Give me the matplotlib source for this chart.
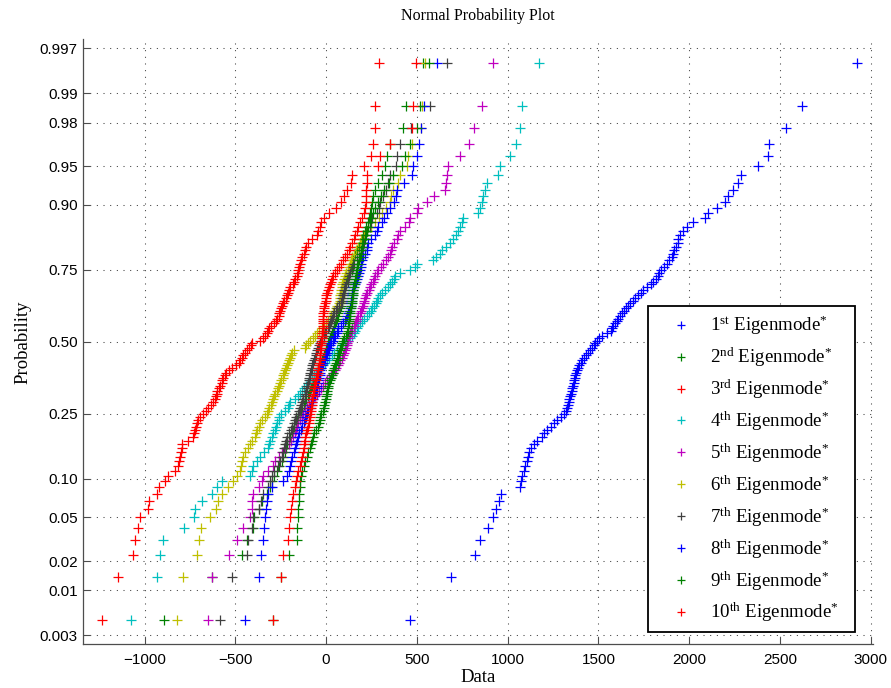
import matplotlib
matplotlib.use('Agg')
import matplotlib.pyplot as plt
import numpy as np
from statistics import NormalDist

# ---- data: sorted values of each eigenmode sample ----
mode1 = [463, 688, 822, 850, 894, 921, 937, 950, 962, 1068,
         1074, 1080, 1088, 1095, 1105, 1110, 1117, 1130, 1145, 1163,
         1187, 1200, 1215, 1236, 1254, 1272, 1295, 1310, 1322, 1328,
         1332, 1336, 1339, 1343, 1348, 1352, 1355, 1359, 1363, 1367,
         1370, 1373, 1377, 1381, 1388, 1395, 1402, 1410, 1420, 1430,
         1440, 1452, 1466, 1476, 1483, 1490, 1505, 1522, 1545, 1567,
         1576, 1581, 1590, 1600, 1610, 1619, 1628, 1640, 1651, 1662,
         1675, 1690, 1704, 1720, 1735, 1748, 1768, 1788, 1803, 1815,
         1826, 1836, 1847, 1861, 1876, 1890, 1903, 1911, 1918, 1926,
         1936, 1940, 1949, 1968, 1986, 2023, 2087, 2105, 2152, 2197,
         2215, 2243, 2271, 2285, 2381, 2436, 2441, 2533, 2623, 2923]
mode2 = [-892, -630, -464, -437, -404, -395, -370, -354, -327, -308,
         -299, -285, -272, -260, -245, -236, -228, -221, -214, -205,
         -198, -190, -183, -176, -168, -160, -153, -146, -140, -130,
         -122, -115, -108, -101, -94, -88, -82, -76, -70, -64,
         -58, -52, -47, -42, -37, -32, -27, -22, -17, -12,
         -7, -2, 3, 8, 13, 18, 22, 27, 31, 36,
         41, 45, 50, 55, 59, 64, 68, 72, 77, 82,
         86, 88, 91, 93, 96, 101, 105, 109, 112, 116,
         121, 127, 133, 138, 144, 150, 156, 162, 169, 179,
         189, 199, 206, 213, 221, 229, 236, 243, 249, 255,
         261, 270, 288, 307, 325, 338, 352, 426, 441, 536]
mode3 = [-1235, -1144, -1061, -1052, -1034, -1024, -979, -973, -932, -920,
         -887, -870, -832, -818, -812, -807, -801, -795, -793, -760,
         -732, -727, -721, -716, -712, -705, -694, -677, -664, -650,
         -636, -622, -614, -607, -602, -598, -592, -584, -574, -571,
         -567, -559, -551, -537, -518, -498, -482, -474, -464, -455,
         -444, -434, -424, -416, -407, -363, -347, -336, -327, -322,
         -317, -303, -289, -278, -270, -262, -257, -253, -248, -242,
         -237, -231, -223, -216, -209, -203, -196, -184, -176, -169,
         -162, -157, -153, -149, -143, -138, -132, -121, -114, -110,
         -97, -77, -51, -44, -33, -28, -11, 17, 55, 83,
         99, 114, 136, 141, 209, 248, 261, 270, 270, 294]
mode4 = [-1075, -932, -914, -896, -784, -728, -721, -685, -630, -600,
         -575, -420, -410, -402, -380, -363, -340, -320, -314, -308,
         -300, -292, -283, -276, -268, -262, -257, -250, -228, -212,
         -203, -198, -172, -153, -142, -130, -120, -110, -100, -90,
         -78, -66, -54, -42, -30, -18, -6, 6, 18, 30,
         45, 60, 75, 90, 105, 118, 130, 142, 152, 162,
         170, 178, 187, 198, 210, 224, 235, 245, 255, 265,
         273, 279, 285, 295, 307, 325, 343, 352, 362, 372,
         380, 408, 460, 490, 499, 591, 608, 625, 640, 660,
         680, 700, 715, 729, 738, 747, 755, 839, 848, 857,
         866, 876, 885, 946, 958, 1013, 1045, 1068, 1078, 1175]
mode5 = [-648, -630, -532, -492, -457, -419, -410, -406, -400, -370,
         -354, -345, -320, -295, -280, -262, -245, -225, -205, -192,
         -180, -173, -166, -160, -152, -143, -133, -125, -115, -103,
         -93, -84, -75, -62, -51, -40, -28, -16, -5, 4,
         15, 26, 37, 47, 56, 65, 71, 79, 87, 95,
         100, 105, 110, 114, 117, 120, 123, 128, 133, 138,
         145, 152, 158, 165, 172, 178, 186, 193, 199, 203,
         207, 211, 214, 220, 228, 236, 243, 250, 258, 265,
         272, 280, 288, 300, 315, 330, 342, 350, 358, 364,
         375, 389, 398, 408, 435, 459, 463, 503, 505, 555,
         597, 655, 661, 668, 670, 738, 789, 817, 857, 918]
mode6 = [-819, -786, -712, -698, -690, -639, -605, -593, -572, -538,
         -515, -492, -474, -466, -462, -455, -446, -430, -421, -410,
         -393, -386, -378, -372, -365, -352, -338, -328, -318, -312,
         -306, -300, -295, -289, -282, -272, -264, -258, -252, -246,
         -240, -235, -230, -226, -222, -217, -212, -206, -199, -192,
         -185, -178, -118, -108, -98, -88, -74, -62, -52, -38,
         -25, -12, 0, 10, 20, 28, 36, 44, 52, 60,
         70, 74, 76, 78, 80, 82, 86, 90, 95, 100,
         106, 112, 118, 125, 130, 138, 145, 155, 165, 175,
         185, 195, 210, 224, 250, 270, 290, 307, 330, 350,
         360, 371, 398, 408, 444, 453, 472, 521, 530, 545]
mode7 = [-582, -519, -437, -428, -409, -400, -367, -360, -345, -318,
         -310, -300, -285, -265, -253, -244, -238, -233, -227, -220,
         -213, -203, -195, -185, -178, -173, -165, -157, -150, -145,
         -138, -132, -125, -118, -114, -110, -106, -103, -100, -96,
         -92, -89, -86, -82, -79, -75, -70, -66, -61, -57,
         -53, -50, -46, -41, -36, -30, -22, -12, -4, 2,
         8, 14, 20, 26, 32, 38, 45, 52, 62, 72,
         80, 86, 90, 93, 96, 100, 106, 112, 118, 123,
         128, 133, 140, 148, 156, 169, 180, 190, 200, 205,
         210, 215, 218, 225, 242, 248, 252, 283, 290, 297,
         316, 330, 343, 352, 385, 392, 406, 470, 573, 668]
mode8 = [-446, -367, -358, -345, -341, -336, -330, -327, -318, -300,
         -240, -216, -205, -200, -195, -185, -177, -172, -165, -160,
         -155, -150, -140, -130, -122, -115, -110, -105, -98, -90,
         -84, -78, -72, -65, -60, -56, -52, -48, -45, -42,
         -39, -36, -34, -32, -27, -22, -16, -11, -6, -1,
         4, 10, 16, 22, 28, 38, 45, 50, 58, 64,
         68, 80, 95, 103, 110, 114, 120, 126, 132, 135,
         137, 139, 141, 143, 145, 148, 150, 158, 164, 169,
         176, 182, 187, 190, 193, 197, 205, 215, 224, 228,
         233, 250, 270, 280, 288, 307, 320, 334, 352, 375,
         385, 389, 430, 472, 477, 503, 514, 520, 541, 609]
mode9 = [-290, -250, -202, -161, -158, -154, -152, -151, -150, -146,
         -143, -140, -132, -124, -114, -106, -98, -90, -84, -79,
         -72, -64, -56, -47, -40, -35, -31, -26, -19, -14,
         -10, -6, -3, 0, 3, 5, 8, 13, 17, 22,
         27, 32, 36, 40, 45, 50, 55, 59, 64, 68,
         73, 77, 82, 86, 90, 95, 101, 108, 114, 118,
         120, 122, 124, 126, 128, 130, 132, 134, 136, 138,
         140, 142, 144, 146, 148, 150, 152, 155, 157, 160,
         163, 166, 169, 172, 176, 180, 185, 190, 195, 200,
         206, 212, 218, 225, 232, 240, 249, 258, 270, 285,
         300, 320, 345, 370, 417, 435, 460, 503, 515, 569]
mode10 = [-290, -250, -239, -210, -202, -198, -193, -185, -180, -172,
          -165, -160, -152, -145, -138, -133, -128, -124, -120, -117,
          -114, -110, -105, -100, -96, -93, -90, -87, -84, -81,
          -79, -77, -75, -73, -71, -69, -66, -64, -62, -58,
          -54, -50, -47, -44, -42, -40, -38, -36, -35, -34,
          -33, -31, -30, -28, -26, -24, -22, -21, -20, -19,
          -18, -17, -17, -16, -16, -15, -15, -14, -12, -9,
          -6, -3, 0, 2, 4, 10, 16, 22, 28, 34,
          40, 50, 60, 70, 82, 95, 105, 115, 124, 132,
          142, 152, 162, 170, 178, 188, 198, 208, 215, 218,
          220, 221, 224, 228, 285, 297, 352, 472, 481, 496]

series = [mode1, mode2, mode3, mode4, mode5, mode6, mode7, mode8, mode9, mode10]
ordinals = ['1', '2', '3', '4', '5', '6', '7', '8', '9', '10']
suffixes = ['st', 'nd', 'rd', 'th', 'th', 'th', 'th', 'th', 'th', 'th']
labels = [o + r'$^{\mathrm{' + s + r'}}$ Eigenmode$^{*}$' for o, s in zip(ordinals, suffixes)]
colors = ['#0000ff', '#008000', '#ff0000', '#00bfbf', '#bf00bf',
          '#bfbf00', '#404040', '#0000ff', '#008000', '#ff0000']

prob_ticks = [0.003, 0.01, 0.02, 0.05, 0.10, 0.25, 0.50, 0.75, 0.90, 0.95, 0.98, 0.99, 0.997]
prob_tick_labels = ['0.003', '0.01', '0.02', '0.05', '0.10', '0.25', '0.50',
                    '0.75', '0.90', '0.95', '0.98', '0.99', '0.997']
x_ticks = [-1000, -500, 0, 500, 1000, 1500, 2000, 2500, 3000]

plt.rcParams['mathtext.fontset'] = 'custom'
plt.rcParams['mathtext.rm'] = 'Liberation Serif'
plt.rcParams['mathtext.it'] = 'Liberation Serif:italic'
plt.rcParams['mathtext.bf'] = 'Liberation Serif:bold'

nd = NormalDist()

fig = plt.figure(figsize=(8.91, 6.88), dpi=100)
ax = fig.add_axes([0.0935, 0.0635, 0.8863, 0.8794])

for vals, lab, col in zip(series, labels, colors):
    v = np.sort(np.asarray(vals, dtype=float))
    n = len(v)
    z = [nd.inv_cdf((i + 0.5) / n) for i in range(n)]
    ax.plot(v, z, linestyle='none', marker='+', markersize=7.5,
            markeredgewidth=0.9, color=col, label=lab)

zlim = 2.834
ax.set_ylim(-zlim, zlim)
ax.set_xlim(-1337, 3012)
ax.set_yticks([nd.inv_cdf(p) for p in prob_ticks])
ax.set_yticklabels(prob_tick_labels)
ax.set_xticks(x_ticks)

for sp in ['top', 'right']:
    ax.spines[sp].set_visible(False)
for sp in ['left', 'bottom']:
    ax.spines[sp].set_color('0.3')
    ax.spines[sp].set_linewidth(0.9)

ax.tick_params(direction='in', length=5, width=0.8, color='0.3',
               labelsize=11, labelcolor='black')
ax.tick_params(axis='y', pad=4)
ax.tick_params(axis='x', pad=6)
for lbl in ax.get_xticklabels() + ax.get_yticklabels():
    lbl.set_family('Liberation Sans')

ax.grid(True, color='0.25', linewidth=0.75, linestyle=(0, (1, 5.4)))
ax.set_axisbelow(True)

ax.set_title('Normal Probability Plot', family='Liberation Serif', fontsize=11.5, pad=14)
ax.set_xlabel('Data', family='Liberation Serif', fontsize=13.5, labelpad=2)
ax.set_ylabel('Probability', family='Liberation Serif', fontsize=13.5, labelpad=6)

x0 = 648.3 / 891
w = (854.5 - 648.3) / 891
ytop = 1 - 306 / 688
leg = ax.legend(loc='upper left', bbox_to_anchor=(x0, ytop - 0.5, w, 0.5),
                bbox_transform=fig.transFigure, borderaxespad=0, mode='expand',
                prop={'family': 'Liberation Serif', 'size': 13.6},
                handlelength=2.62, handletextpad=0.24, borderpad=0.42,
                labelspacing=0.45, fancybox=False, framealpha=1, numpoints=1,
                markerscale=0.85)
leg.get_frame().set_edgecolor('black')
leg.get_frame().set_linewidth(1.3)

fig.savefig('out.png', dpi=100)
